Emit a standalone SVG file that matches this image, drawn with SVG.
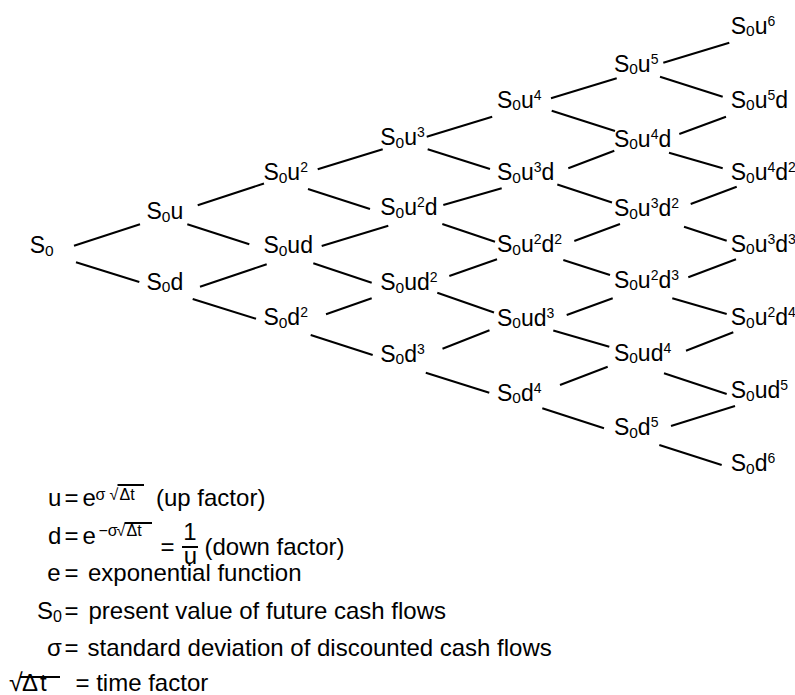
<svg xmlns="http://www.w3.org/2000/svg" width="795" height="695" viewBox="0 0 795 695">
<style>
.n{font-family:"Liberation Sans",Arial,sans-serif;font-size:23px;fill:#000}
.sb{font-size:15.5px}
.sp{font-size:14px}
.lg{font-family:"Liberation Sans",Arial,sans-serif;font-size:24px;fill:#000}
.ls{font-size:16px}
#edges line,.rule{stroke:#000;stroke-width:2;fill:none}
</style>
<rect width="795" height="695" fill="#fff"/>
<g id="edges">
<line x1="74" y1="245.7" x2="140" y2="224.3"/>
<line x1="76" y1="262.3" x2="139.3" y2="282"/>
<line x1="197.7" y1="205.3" x2="264" y2="183.5"/>
<line x1="187.3" y1="224.3" x2="249.3" y2="244.3"/>
<line x1="200" y1="286.7" x2="266.7" y2="264.3"/>
<line x1="192.7" y1="299" x2="256" y2="318.7"/>
<line x1="317.7" y1="169.3" x2="382.7" y2="149.3"/>
<line x1="308" y1="189" x2="370" y2="209"/>
<line x1="321.7" y1="246" x2="388.3" y2="225.7"/>
<line x1="313.3" y1="263.3" x2="371.7" y2="282.7"/>
<line x1="326" y1="314.3" x2="371.7" y2="298.3"/>
<line x1="310.7" y1="335" x2="372.7" y2="355"/>
<line x1="426.7" y1="136.7" x2="492.2" y2="116.7"/>
<line x1="427.7" y1="149.3" x2="490" y2="169"/>
<line x1="443.3" y1="205" x2="501.7" y2="188.3"/>
<line x1="442.3" y1="224" x2="495" y2="241.7"/>
<line x1="449.3" y1="276" x2="497" y2="259.3"/>
<line x1="437.3" y1="292.7" x2="494" y2="312.5"/>
<line x1="442.5" y1="348.7" x2="489.5" y2="330.3"/>
<line x1="425.8" y1="372.8" x2="489.3" y2="392.7"/>
<line x1="551" y1="98.3" x2="616.7" y2="78.3"/>
<line x1="551.7" y1="110.7" x2="615" y2="131"/>
<line x1="568.3" y1="168.3" x2="614.3" y2="150.7"/>
<line x1="557.3" y1="184.5" x2="612" y2="202.5"/>
<line x1="574.3" y1="241" x2="620" y2="224"/>
<line x1="563.3" y1="260" x2="610" y2="275"/>
<line x1="566.7" y1="315" x2="612.7" y2="298.3"/>
<line x1="553.3" y1="330.5" x2="609.3" y2="346.7"/>
<line x1="560" y1="385" x2="607.7" y2="366.7"/>
<line x1="542.3" y1="408.3" x2="604" y2="428.3"/>
<line x1="663.3" y1="62.7" x2="729.3" y2="42.7"/>
<line x1="660" y1="76.7" x2="722.7" y2="96.7"/>
<line x1="679.3" y1="134" x2="726" y2="116.7"/>
<line x1="669" y1="152.7" x2="722.7" y2="168.3"/>
<line x1="690.7" y1="204" x2="736.7" y2="186.7"/>
<line x1="684" y1="226.7" x2="726.7" y2="240.7"/>
<line x1="688.3" y1="277.3" x2="736" y2="259.3"/>
<line x1="672.3" y1="298.3" x2="726.7" y2="314"/>
<line x1="686" y1="350.7" x2="733.3" y2="332.3"/>
<line x1="664" y1="373.3" x2="726.7" y2="394"/>
<line x1="671" y1="426" x2="735" y2="406"/>
<line x1="659.3" y1="445" x2="721.7" y2="465"/>
</g>
<g id="n0_0"><text class="n" x="29.7" y="253.3">S<tspan class="sb" dy="2.5">0</tspan></text></g>
<g id="n1_0"><text class="n" x="146.5" y="219">S<tspan class="sb" dy="2.5">0</tspan><tspan dy="-2.5">u</tspan></text></g>
<g id="n1_1"><text class="n" x="146.5" y="289.5">S<tspan class="sb" dy="2.5">0</tspan><tspan dy="-2.5">d</tspan></text></g>
<g id="n2_0"><text class="n" x="263.4" y="180">S<tspan class="sb" dy="2.5">0</tspan><tspan dy="-2.5">u</tspan><tspan class="sp" dy="-8">2</tspan></text></g>
<g id="n2_1"><text class="n" x="263.4" y="253">S<tspan class="sb" dy="2.5">0</tspan><tspan dy="-2.5">ud</tspan></text></g>
<g id="n2_2"><text class="n" x="263.4" y="325">S<tspan class="sb" dy="2.5">0</tspan><tspan dy="-2.5">d</tspan><tspan class="sp" dy="-8">2</tspan></text></g>
<g id="n3_0"><text class="n" x="380.2" y="145.3">S<tspan class="sb" dy="2.5">0</tspan><tspan dy="-2.5">u</tspan><tspan class="sp" dy="-8">3</tspan></text></g>
<g id="n3_1"><text class="n" x="380.2" y="215">S<tspan class="sb" dy="2.5">0</tspan><tspan dy="-2.5">u</tspan><tspan class="sp" dy="-8">2</tspan><tspan dy="8">d</tspan></text></g>
<g id="n3_2"><text class="n" x="380.2" y="290">S<tspan class="sb" dy="2.5">0</tspan><tspan dy="-2.5">ud</tspan><tspan class="sp" dy="-8">2</tspan></text></g>
<g id="n3_3"><text class="n" x="380.2" y="361.8">S<tspan class="sb" dy="2.5">0</tspan><tspan dy="-2.5">d</tspan><tspan class="sp" dy="-8">3</tspan></text></g>
<g id="n4_0"><text class="n" x="497" y="107.8">S<tspan class="sb" dy="2.5">0</tspan><tspan dy="-2.5">u</tspan><tspan class="sp" dy="-8">4</tspan></text></g>
<g id="n4_1"><text class="n" x="497" y="180.3">S<tspan class="sb" dy="2.5">0</tspan><tspan dy="-2.5">u</tspan><tspan class="sp" dy="-8">3</tspan><tspan dy="8">d</tspan></text></g>
<g id="n4_2"><text class="n" x="497" y="252">S<tspan class="sb" dy="2.5">0</tspan><tspan dy="-2.5">u</tspan><tspan class="sp" dy="-8">2</tspan><tspan dy="8">d</tspan><tspan class="sp" dy="-8">2</tspan></text></g>
<g id="n4_3"><text class="n" x="497" y="325.8">S<tspan class="sb" dy="2.5">0</tspan><tspan dy="-2.5">ud</tspan><tspan class="sp" dy="-8">3</tspan></text></g>
<g id="n4_4"><text class="n" x="497" y="400.5">S<tspan class="sb" dy="2.5">0</tspan><tspan dy="-2.5">d</tspan><tspan class="sp" dy="-8">4</tspan></text></g>
<g id="n5_0"><text class="n" x="613.9" y="71.6">S<tspan class="sb" dy="2.5">0</tspan><tspan dy="-2.5">u</tspan><tspan class="sp" dy="-8">5</tspan></text></g>
<g id="n5_1"><text class="n" x="613.9" y="146.6">S<tspan class="sb" dy="2.5">0</tspan><tspan dy="-2.5">u</tspan><tspan class="sp" dy="-8">4</tspan><tspan dy="8">d</tspan></text></g>
<g id="n5_2"><text class="n" x="613.9" y="216">S<tspan class="sb" dy="2.5">0</tspan><tspan dy="-2.5">u</tspan><tspan class="sp" dy="-8">3</tspan><tspan dy="8">d</tspan><tspan class="sp" dy="-8">2</tspan></text></g>
<g id="n5_3"><text class="n" x="613.9" y="287.5">S<tspan class="sb" dy="2.5">0</tspan><tspan dy="-2.5">u</tspan><tspan class="sp" dy="-8">2</tspan><tspan dy="8">d</tspan><tspan class="sp" dy="-8">3</tspan></text></g>
<g id="n5_4"><text class="n" x="613.9" y="360.5">S<tspan class="sb" dy="2.5">0</tspan><tspan dy="-2.5">ud</tspan><tspan class="sp" dy="-8">4</tspan></text></g>
<g id="n5_5"><text class="n" x="613.9" y="435.3">S<tspan class="sb" dy="2.5">0</tspan><tspan dy="-2.5">d</tspan><tspan class="sp" dy="-8">5</tspan></text></g>
<g id="n6_0"><text class="n" x="730.7" y="33.8">S<tspan class="sb" dy="2.5">0</tspan><tspan dy="-2.5">u</tspan><tspan class="sp" dy="-8">6</tspan></text></g>
<g id="n6_1"><text class="n" x="730.7" y="107.8">S<tspan class="sb" dy="2.5">0</tspan><tspan dy="-2.5">u</tspan><tspan class="sp" dy="-8">5</tspan><tspan dy="8">d</tspan></text></g>
<g id="n6_2"><text class="n" x="730.7" y="180">S<tspan class="sb" dy="2.5">0</tspan><tspan dy="-2.5">u</tspan><tspan class="sp" dy="-8">4</tspan><tspan dy="8">d</tspan><tspan class="sp" dy="-8">2</tspan></text></g>
<g id="n6_3"><text class="n" x="730.7" y="251.5">S<tspan class="sb" dy="2.5">0</tspan><tspan dy="-2.5">u</tspan><tspan class="sp" dy="-8">3</tspan><tspan dy="8">d</tspan><tspan class="sp" dy="-8">3</tspan></text></g>
<g id="n6_4"><text class="n" x="730.7" y="325.3">S<tspan class="sb" dy="2.5">0</tspan><tspan dy="-2.5">u</tspan><tspan class="sp" dy="-8">2</tspan><tspan dy="8">d</tspan><tspan class="sp" dy="-8">4</tspan></text></g>
<g id="n6_5"><text class="n" x="730.7" y="398.3">S<tspan class="sb" dy="2.5">0</tspan><tspan dy="-2.5">ud</tspan><tspan class="sp" dy="-8">5</tspan></text></g>
<g id="n6_6"><text class="n" x="730.7" y="471">S<tspan class="sb" dy="2.5">0</tspan><tspan dy="-2.5">d</tspan><tspan class="sp" dy="-8">6</tspan></text></g>
<g id="legend">
<text class="lg" y="506"><tspan x="48">u</tspan><tspan x="64.5">=</tspan><tspan x="82.5">e</tspan><tspan class="ls" x="95.5" dy="-6">σ</tspan><tspan class="ls" x="109.5">√</tspan><tspan class="ls" x="119.5">Δt</tspan><tspan x="156" dy="6">(up factor)</tspan></text>
<line class="rule" x1="117.5" y1="485" x2="144" y2="485"/>
<text class="lg" y="543.5"><tspan x="48">d</tspan><tspan x="64.5">=</tspan><tspan x="82.5">e</tspan><tspan class="ls" x="98.5" dy="-8">−σ</tspan><tspan class="ls" x="116.5">√</tspan><tspan class="ls" x="126.5">Δt</tspan></text>
<line class="rule" x1="124.5" y1="523" x2="152" y2="523"/>
<text class="lg" x="160.5" y="555">=</text>
<text class="lg" x="190" y="539.5" text-anchor="middle" font-size="21">1</text>
<line class="rule" x1="182" y1="547" x2="198" y2="547"/>
<text class="lg" x="190.5" y="563.5" text-anchor="middle" font-size="22">u</text>
<text class="lg" x="204.5" y="555">(down factor)</text>
<text class="lg" y="581"><tspan x="47.3">e</tspan><tspan x="64.5">=</tspan><tspan x="88">exponential function</tspan></text>
<text class="lg" y="618.5"><tspan x="37">S</tspan><tspan class="ls" dy="3">0</tspan><tspan x="64.5" dy="-3">=</tspan><tspan x="88.5">present value of future cash flows</tspan></text>
<text class="lg" y="655.5"><tspan x="47">σ</tspan><tspan x="64.5">=</tspan><tspan x="87.5">standard deviation of discounted cash flows</tspan></text>
<text class="lg" y="690.5"><tspan x="9" font-size="25">√</tspan><tspan x="22" letter-spacing="2">Δt</tspan><tspan x="75.5">= time factor</tspan></text>
<line class="rule" x1="20" y1="677" x2="60" y2="677"/>
</g>
</svg>
